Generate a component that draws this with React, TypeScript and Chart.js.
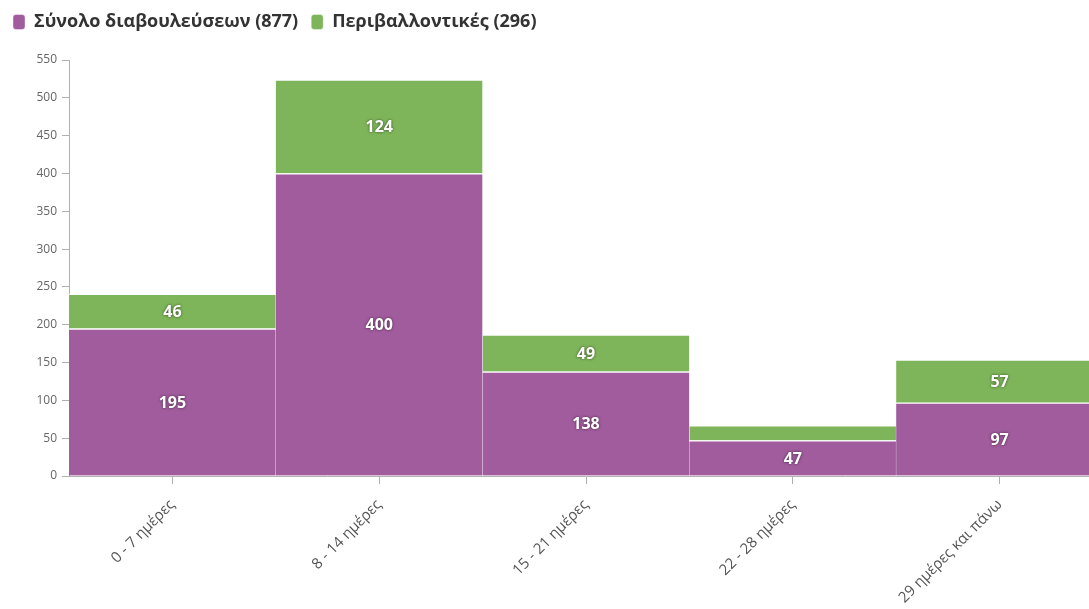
import React, { useEffect, useRef } from "react";
import { Chart, registerables } from "chart.js";

Chart.register(...registerables);

const categories = ["0 - 7 ημέρες", "8 - 14 ημέρες", "15 - 21 ημέρες", "22 - 28 ημέρες", "29 ημέρες και πάνω"];
const totalValues = [195, 400, 138, 47, 97];
const envValues = [46, 124, 49, 20, 57];
const totalLabel = "Σύνολο διαβουλεύσεων (877)";
const envLabel = "Περιβαλλοντικές (296)";
const yTicks = [0, 50, 100, 150, 200, 250, 300, 350, 400, 450, 500, 550];

const PURPLE = "#a15c9d";
const GREEN = "#7fb55a";
const FONT = "'Open Sans', 'Noto Sans', sans-serif";

const valueLabels = {
  id: "valueLabels",
  afterDatasetsDraw(chart: any) {
    const ctx = chart.ctx;
    ctx.save();
    ctx.font = `bold 16px ${FONT}`;
    ctx.textAlign = "center";
    ctx.textBaseline = "middle";
    chart.data.datasets.forEach((ds: any, di: number) => {
      const meta = chart.getDatasetMeta(di);
      meta.data.forEach((bar: any, i: number) => {
        const h = Math.abs(bar.base - bar.y);
        if (h < 20) return;
        const cy = (bar.base + bar.y) / 2;
        ctx.shadowColor = "rgba(0,0,0,0.6)";
        ctx.shadowBlur = 3;
        ctx.fillStyle = "#ffffff";
        ctx.fillText(String(ds.data[i]), bar.x, cy + 1);
      });
    });
    ctx.restore();
  },
};

const legendHeight = {
  id: "legendHeight",
  beforeInit(chart: any) {
    const legend = chart.legend;
    if (!legend) return;
    const orig = legend.fit;
    legend.fit = function () {
      orig.call(this);
      this.height = 60;
    };
  },
};

export default function App() {
  const ref = useRef<HTMLCanvasElement>(null);
  useEffect(() => {
    if (!ref.current) return;
    const chart = new Chart(ref.current, {
      type: "bar",
      data: {
        labels: categories,
        datasets: [
          {
            label: totalLabel,
            data: totalValues,
            backgroundColor: PURPLE,
            borderColor: "rgba(255,255,255,0.75)",
            borderWidth: { top: 1.5, right: 0.6, left: 0, bottom: 0 },
            borderSkipped: false,
            categoryPercentage: 1,
            barPercentage: 1,
          },
          {
            label: envLabel,
            data: envValues,
            backgroundColor: GREEN,
            borderColor: "rgba(255,255,255,0.75)",
            borderWidth: { top: 1.5, right: 0.6, left: 0, bottom: 0 },
            borderSkipped: false,
            categoryPercentage: 1,
            barPercentage: 1,
          },
        ],
      },
      options: {
        animation: false,
        responsive: true,
        maintainAspectRatio: false,
        layout: { padding: { left: 0, right: 0, top: 0, bottom: 0 } },
        plugins: {
          legend: {
            position: "top",
            align: "start",
            labels: {
              boxWidth: 12,
              boxHeight: 15,
              useBorderRadius: true,
              borderRadius: 3,
              padding: 13,
              color: "#333333",
              font: { family: FONT, size: 18, weight: "bold" },
            },
          },
          tooltip: { enabled: false },
        },
        scales: {
          x: {
            stacked: true,
            offset: true,
            afterFit(scale: any) {
              scale.height = 133;
            },
            border: { display: true, color: "#b0b0b0", width: 1 },
            grid: {
              offset: false,
              display: true,
              drawOnChartArea: false,
              drawTicks: true,
              tickLength: 8,
              color: "#b0b0b0",
            },
            ticks: {
              minRotation: 45,
              maxRotation: 45,
              color: "#555555",
              font: { family: FONT, size: 15 },
              padding: 12,
            },
          },
          y: {
            stacked: true,
            min: 0,
            max: 550,
            afterFit(scale: any) {
              scale.width = 69;
            },
            afterBuildTicks(scale: any) {
              scale.ticks = yTicks.map((v) => ({ value: v }));
            },
            border: { display: true, color: "#b0b0b0", width: 1 },
            grid: {
              display: true,
              drawOnChartArea: false,
              drawTicks: true,
              tickLength: 7,
              color: "#b0b0b0",
            },
            ticks: {
              color: "#666666",
              font: { family: FONT, size: 12 },
              padding: 5,
            },
          },
        },
      },
      plugins: [valueLabels, legendHeight],
    } as any);
    return () => chart.destroy();
  }, []);

  return (
    <div
      style={{
        position: "fixed",
        left: 0,
        top: 0,
        width: 1089,
        height: 609,
        overflow: "hidden",
        background: "#ffffff",
      }}
    >
      <div style={{ position: "relative", width: 1103, height: 609 }}>
        <canvas ref={ref} />
      </div>
    </div>
  );
}
